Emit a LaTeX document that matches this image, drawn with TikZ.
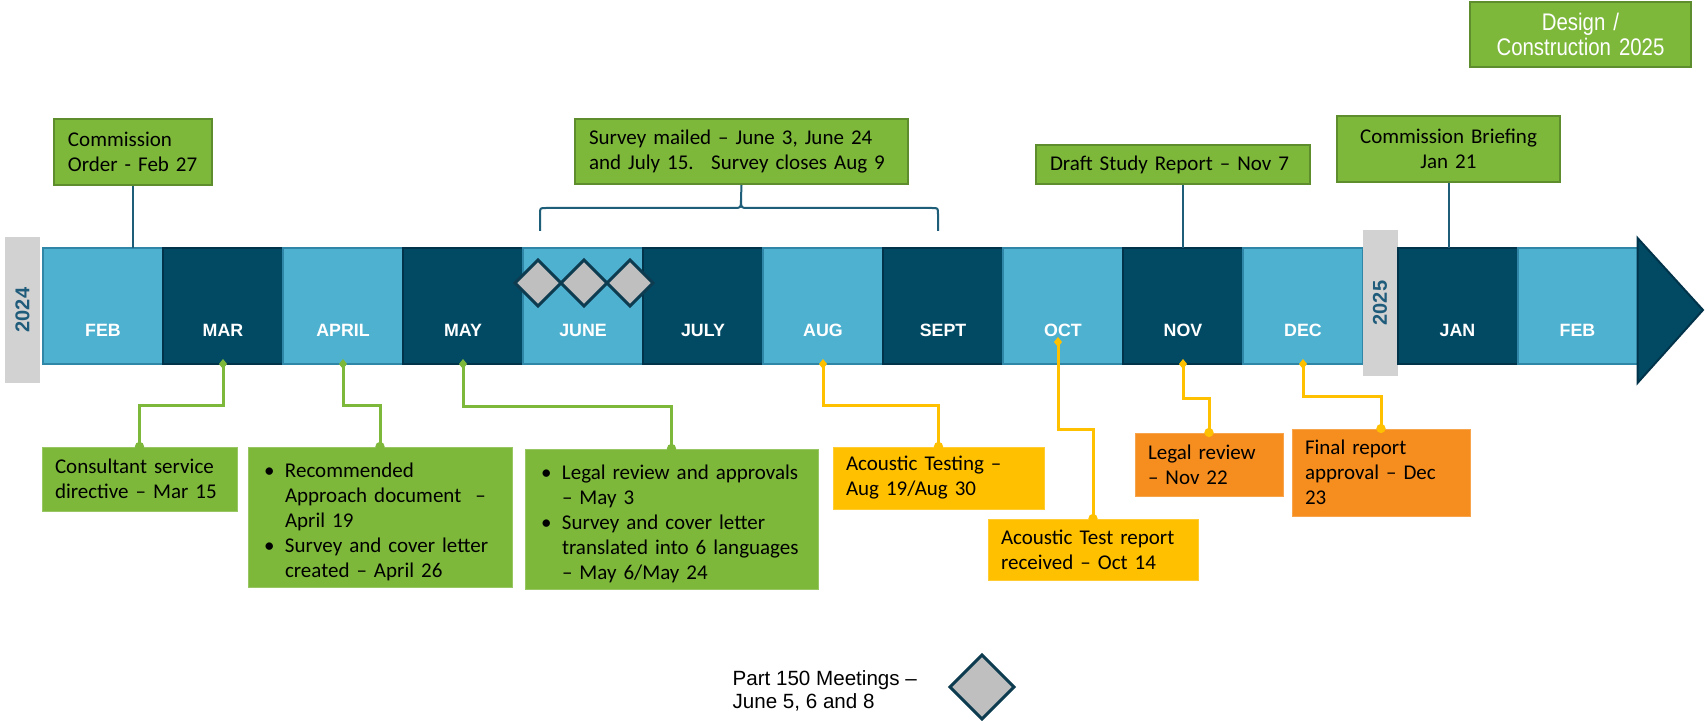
\documentclass[tikz,border=0pt]{standalone}
\usepackage{fontspec}
\setmainfont{Carlito}
\newfontfamily\arialfont{Liberation Sans}
\newfontfamily\narrowfont[FakeStretch=0.85]{Liberation Sans}
\usetikzlibrary{arrows.meta, positioning, shapes.geometric}

\definecolor{monthlight}{HTML}{4FB1D0}
\definecolor{monthlightedge}{HTML}{2F86A6}
\definecolor{monthdark}{HTML}{024A64}
\definecolor{monthdarkedge}{HTML}{01344A}
\definecolor{yeargray}{HTML}{D2D2D2}
\definecolor{yeartext}{HTML}{1F5B7A}
\definecolor{boxgreen}{HTML}{7DB83B}
\definecolor{boxgreenedge}{HTML}{5E8D2D}
\definecolor{boxgold}{HTML}{FFC000}
\definecolor{boxorange}{HTML}{F68D1F}
\definecolor{stemblue}{HTML}{1F5E78}
\definecolor{meetgray}{HTML}{BFBFBF}
\definecolor{meetedge}{HTML}{0D3C50}

\newcommand{\tlitem}[1]{\par\noindent\hangindent=12pt\hangafter=1\makebox[12pt][l]{\hspace{1.5pt}\textbullet}#1\par}

\begin{document}
\begin{tikzpicture}[
    x=0.5pt, y=-0.5pt,
    month/.style={draw, line width=1pt, outer sep=0pt, inner sep=0pt, minimum width=60pt, minimum height=58pt},
    light/.style={month, fill=monthlight, draw=monthlightedge, label={[mlabel]center:#1}},
    dark/.style={month, fill=monthdark, draw=monthdarkedge, label={[mlabel]center:#1}},
    mlabel/.style={yshift=-12pt, text=white, font=\arialfont\bfseries\fontsize{8.9}{10}\selectfont},
    yearbar/.style={fill=yeargray, minimum width=17.5pt, minimum height=73pt, inner sep=0pt, outer sep=0pt, text=yeartext, font=\arialfont\bfseries\fontsize{10}{12}\selectfont},
    topbox/.style={draw=boxgreenedge, fill=boxgreen, line width=1pt, inner xsep=7pt, inner ysep=0pt, font=\fontsize{10.5}{12.5}\selectfont},
    callout/.style={draw=#1!80!white, fill=#1, line width=0.4pt, inner xsep=6.5pt, inner ysep=0pt, align=left, font=\fontsize{10.5}{12.5}\selectfont},
    stem/.style={draw=stemblue, line width=1pt},
    gline/.style={draw=boxgreen, line width=1.5pt, {Diamond[length=5pt,width=4pt]}-{Circle[length=4.5pt]}, shorten <=-2.5pt, shorten >=-2.2pt},
    yline/.style={gline, draw=boxgold},
    meet/.style={diamond, draw=meetedge, fill=meetgray, line width=1.5pt, inner sep=0pt, outer sep=0pt, minimum width=23pt, minimum height=23pt}
    ]

    \fill[white] (0,0) rectangle (1705,721);

    % Timeline
    \node[yearbar] (yr24) at (22.5,310) {\rotatebox{90}{2024}};
    \node[light=FEB] (feb) at (103,306) {};
    \node[dark=MAR, right=0pt of feb] (mar) {};
    \node[light=APRIL, right=0pt of mar] (apr) {};
    \node[dark=MAY, right=0pt of apr] (may) {};
    \node[light=JUNE, right=0pt of may] (jun) {};
    \node[dark=JULY, right=0pt of jun] (jul) {};
    \node[light=AUG, right=0pt of jul] (aug) {};
    \node[dark=SEPT, right=0pt of aug] (sep) {};
    \node[light=OCT, right=0pt of sep] (oct) {};
    \node[dark=NOV, right=0pt of oct] (nov) {};
    \node[light=DEC, right=0pt of nov] (dec) {};
    \node[yearbar] (yr25) at (1380,303) {\rotatebox{90}{2025}};
    \node[dark=JAN, anchor=west] (jan) at (yr25.east |- dec.east) {};
    \node[light=FEB, right=0pt of jan] (feb2) {};
    \draw[fill=monthdark, draw=monthdarkedge, line width=1pt]
        (feb2.east |- 0,238) -- (1703,310) -- (feb2.east |- 0,383) -- cycle;

    % Part 150 meetings
    \node[meet] (m2) at (584,283) {};
    \node[meet, left=0pt of m2] (m1) {};
    \node[meet, right=0pt of m2] (m3) {};

    % Top boxes
    \node[topbox, minimum width=79pt, minimum height=33pt, text width=65pt, align=left] (order) at (133,152)
        {Commission\\Order - Feb 27};
    \node[topbox, minimum width=166.5pt, minimum height=32.5pt, text width=152.5pt, align=left] (survey) at (741.5,151.5)
        {Survey mailed – June 3, June 24\\and July 15.~ Survey closes Aug 9};
    \node[topbox, minimum width=137pt, minimum height=19.5pt, text width=123pt, align=left] (draft) at (1173,164.5)
        {Draft Study Report – Nov 7};
    \node[topbox, minimum width=111.5pt, minimum height=33pt, text width=97.5pt, align=center] (brief) at (1448.5,149)
        {Commission Briefing\\Jan 21};
    \node[topbox, minimum width=110.5pt, minimum height=32.5pt, text width=96.5pt, align=center, text=white,
        font=\narrowfont\fontsize{12}{12.5}\selectfont] (design) at (1580.5,34.5)
        {Design /\\Construction 2025};

    % Stems and brace
    \draw[stem] (order.south) -- (order.south |- feb.north);
    \draw[stem] (nov.north) -- (nov.north |- draft.south);
    \draw[stem] (brief.south) -- (brief.south |- jan.north);
    \coordinate (brL) at (540,231);
    \coordinate (brR) at (938,231);
    \coordinate (brT) at (741,199);
    \draw[stem] (brL) -- (540,214) .. controls (540,208) .. (546,208) -- (734,208)
        .. controls (741,208) .. (brT) .. controls (741,208) .. (748,208) -- (932,208)
        .. controls (938,208) .. (938,214) -- (brR);
    \draw[stem] (brT) -- (survey.south);

    % Bottom boxes
    \node[callout=boxgreen, minimum width=97.5pt, minimum height=32pt, text width=84.5pt] (consult) at (139.5,479)
        {Consultant service\\directive – Mar 15};
    \node[callout=boxgreen, minimum width=132pt, minimum height=70pt, text width=119pt] (aprbox) at (380,517)
        {\tlitem{Recommended\newline Approach document~ –\newline April 19}%
         \tlitem{Survey and cover letter\newline created – April 26}};
    \node[callout=boxgreen, minimum width=146.5pt, minimum height=70pt, text width=133.5pt] (maybox) at (671.5,519)
        {\tlitem{Legal review and approvals\newline – May 3}%
         \tlitem{Survey and cover letter\newline translated into 6 languages\newline – May 6/May 24}};
    \node[callout=boxgold, minimum width=105.5pt, minimum height=31pt, text width=92.5pt] (testing) at (938.5,478)
        {Acoustic Testing –\\Aug 19/Aug 30};
    \node[callout=boxgold, minimum width=105pt, minimum height=30.5pt, text width=92pt] (report) at (1093,549.5)
        {Acoustic Test report\\received – Oct 14};
    \node[callout=boxorange, minimum width=74pt, minimum height=31.5pt, text width=61pt] (legal) at (1209,464.5)
        {Legal review\\– Nov 22};
    \node[callout=boxorange, minimum width=89pt, minimum height=43.5pt, text width=76pt] (final) at (1381,472.5)
        {Final report\\approval – Dec\\23};

    % Connectors
    \draw[gline] (mar.south) -- ++(0,42) -| (consult.north);
    \draw[gline] (apr.south) -- ++(0,42) -| (aprbox.north);
    \draw[gline] (may.south) -- ++(0,43) -| (maybox.north);
    \draw[yline] (aug.south) -- ++(0,42) -| (testing.north);
    \coordinate (octdot) at (1058,342);
    \draw[yline] (octdot) -- ++(0,88) -| (report.north);
    \draw[yline] (nov.south) -- ++(0,35) -| (legal.north);
    \draw[yline] (dec.south) -- ++(0,33) -| (final.north);

    % Legend
    \node[meet, minimum width=32pt, minimum height=32pt] (legdia) at (982,687) {};
    \node[font=\arialfont\fontsize{10.3}{11.5}\selectfont, align=left, left=13pt of legdia, yshift=-2pt] (legtxt)
        {Part 150 Meetings –\\June 5, 6 and 8};
\end{tikzpicture}
\end{document}
